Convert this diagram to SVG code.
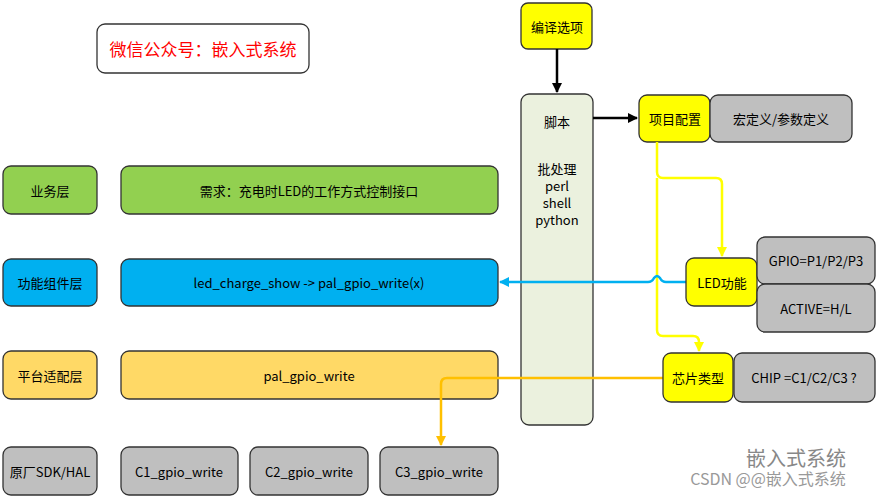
<svg xmlns="http://www.w3.org/2000/svg" width="877" height="497" viewBox="0 0 877 497">
<style>
text{font-family:"Noto Sans CJK SC","Noto Sans",sans-serif;font-size:13px;text-anchor:middle;dominant-baseline:central;fill:#000}
.b{stroke:#333;stroke-width:1.3}
.y{fill:#FFFF00}.g{fill:#BFBFBF}
</style>
<defs>
<marker id="ak" viewBox="0 0 10 10" refX="9" refY="5" markerWidth="4" markerHeight="4" orient="auto"><path d="M0,0L10,5L0,10z" fill="#000"/></marker>
<marker id="ay" viewBox="0 0 10 10" refX="9" refY="5" markerWidth="4" markerHeight="4" orient="auto"><path d="M0,0L10,5L0,10z" fill="#FFFF00"/></marker>
<marker id="ab" viewBox="0 0 10 10" refX="9" refY="5" markerWidth="4" markerHeight="4" orient="auto"><path d="M0,0L10,5L0,10z" fill="#00B0F0"/></marker>
<marker id="ao" viewBox="0 0 10 10" refX="9" refY="5" markerWidth="4" markerHeight="4" orient="auto"><path d="M0,0L10,5L0,10z" fill="#FFC000"/></marker>
</defs>
<rect width="877" height="497" fill="#fff"/>
<g id="title"><rect x="97" y="24" width="212" height="49" rx="8" fill="#fff" class="b"/><text x="203" y="48" style="font-size:17px;fill:#FF0000">微信公众号：嵌入式系统</text></g>
<g id="compile"><rect x="521" y="3" width="71" height="46" rx="7" class="y b"/><text x="557" y="26">编译选项</text></g>
<g id="script"><rect x="521" y="94" width="72" height="331" rx="8" fill="#EBF1DE" class="b"/><text x="557" y="121">脚本</text><text x="557" y="168">批处理</text><text x="557" y="185">perl</text><text x="557" y="202">shell</text><text x="557" y="219">python</text></g>
<g id="l1"><rect x="3" y="166" width="94" height="48" rx="8" fill="#92D050" class="b"/><text x="50" y="190">业务层</text></g>
<g id="l2"><rect x="3" y="259" width="94" height="47" rx="8" fill="#00B0F0" class="b"/><text x="50" y="282">功能组件层</text></g>
<g id="l3"><rect x="3" y="351" width="94" height="48" rx="8" fill="#FFD966" class="b"/><text x="50" y="375">平台适配层</text></g>
<g id="l4"><rect x="3" y="447" width="94" height="48" rx="8" class="g b"/><text x="50" y="471">原厂SDK/HAL</text></g>
<g id="req"><rect x="121" y="166" width="377" height="48" rx="8" fill="#92D050" class="b"/><text x="309" y="190">需求：充电时LED的工作方式控制接口</text></g>
<g id="led"><rect x="121" y="259" width="377" height="47" rx="8" fill="#00B0F0" class="b"/><text x="309" y="282">led_charge_show -&gt; pal_gpio_write(x)</text></g>
<g id="pal"><rect x="121" y="351" width="377" height="48" rx="8" fill="#FFD966" class="b"/><text x="309" y="375">pal_gpio_write</text></g>
<g id="c1"><rect x="121" y="447" width="117" height="48" rx="8" class="g b"/><text x="179" y="471">C1_gpio_write</text></g>
<g id="c2"><rect x="250" y="447" width="118" height="48" rx="8" class="g b"/><text x="309" y="471">C2_gpio_write</text></g>
<g id="c3"><rect x="380" y="447" width="118" height="48" rx="8" class="g b"/><text x="439" y="471">C3_gpio_write</text></g>
<g id="proj"><rect x="639" y="95" width="71" height="47" rx="8" class="y b"/><text x="675" y="118">项目配置</text></g>
<g id="macro"><rect x="710" y="95" width="142" height="47" rx="8" class="g b"/><text x="781" y="118">宏定义/参数定义</text></g>
<g id="connectors" fill="none" stroke-width="2.5">
<path d="M557,49V92" stroke="#000" marker-end="url(#ak)"/>
<path d="M593,118H637" stroke="#000" marker-end="url(#ak)"/>
<path d="M657,142V172Q657,178 663,178H716Q722,178 722,184V256" stroke="#FFFF00" marker-end="url(#ay)"/>
<path d="M657,178V330Q657,336 663,336H693Q699,336 699,342V351" stroke="#FFFF00" marker-end="url(#ay)"/>
<path d="M686,282H666Q662,282 660,278Q657,274 654,278Q652,282 648,282H500" stroke="#00B0F0" marker-end="url(#ab)"/>
<path d="M663,378H447Q441,378 441,384V445" stroke="#FFC000" marker-end="url(#ao)"/>
</g>
<g id="ledf"><rect x="686" y="258" width="71" height="48" rx="8" class="y b"/><text x="722" y="282">LED功能</text></g>
<g id="gpio"><rect x="757" y="237" width="118" height="47" rx="8" class="g b"/><text x="816" y="260">GPIO=P1/P2/P3</text></g>
<g id="active"><rect x="757" y="284" width="118" height="48" rx="8" class="g b"/><text x="816" y="308">ACTIVE=H/L</text></g>
<g id="chip"><rect x="663" y="353" width="70" height="49" rx="8" class="y b"/><text x="698" y="377">芯片类型</text></g>
<g id="chipv"><rect x="734" y="353" width="141" height="49" rx="8" class="g b"/><text x="804" y="377">CHIP =C1/C2/C3 ?</text></g>
<g id="wm"><text x="796" y="457" style="font-size:20px;fill:#888">嵌入式系统</text><text x="768" y="478" style="font-size:16px;fill:#999">CSDN @@嵌入式系统</text></g>
</svg>
